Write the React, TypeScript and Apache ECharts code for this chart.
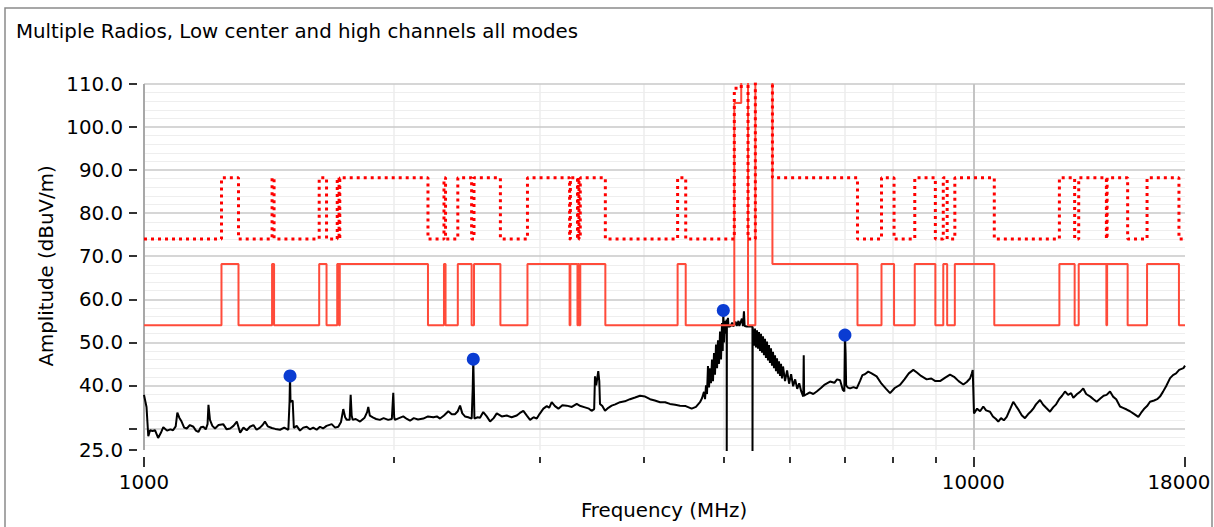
import React, { useEffect, useRef } from 'react';
import * as echarts from 'echarts';

const FONT = 'DejaVu Sans';
const FS = 19.8;
const TITLE = 'Multiple Radios, Low center and high channels all modes';
const X_NAME = 'Frequency (MHz)';
const Y_NAME = 'Amplitude (dBuV/m)';

const xMajorTicks = [1000, 10000, 18000];
const xMinorTicks = [2000, 3000, 4000, 5000, 6000, 7000, 8000, 9000];
const yTickValues = [25, 30, 40, 50, 60, 70, 80, 90, 100, 110];
const yLabelValues = [25, 40, 50, 60, 70, 80, 90, 100, 110];
const majorGridY = [30, 40, 50, 60, 70, 80, 90, 100, 110];
const minorGridY = [26, 28, 32, 34, 36, 38, 42, 44, 46, 48, 52, 54, 56, 58, 62, 64, 66, 68, 72, 74, 76, 78, 82, 84, 86, 88, 92, 94, 96, 98, 102, 104, 106, 108];
const minorGridX = [2000, 3000, 4000, 5000, 6000, 7000, 8000, 9000];
const majorGridX = [10000];

// Average limit (solid red): [MHz, dBuV/m]
const avgLimit: [number, number][] = [
  [1000, 54], [1240, 54], [1240, 68.2], [1300, 68.2], [1300, 54], [1427, 54], [1427, 68.2], [1435, 68.2], [1435, 54],
  [1626.5, 54], [1626.5, 68.2], [1660, 68.2], [1660, 54], [1710, 54], [1710, 68.2], [1718.8, 68.2], [1718.8, 54],
  [1722.2, 54], [1722.2, 68.2], [2200, 68.2], [2200, 54], [2300, 54], [2300, 68.2], [2310, 68.2], [2310, 54],
  [2390, 54], [2390, 68.2], [2483.5, 68.2], [2483.5, 54], [2500, 54], [2500, 68.2], [2690, 68.2], [2690, 54],
  [2900, 54], [2900, 68.2], [3260, 68.2], [3260, 54], [3267, 54], [3267, 68.2], [3332, 68.2], [3332, 54],
  [3339, 54], [3339, 68.2], [3345.8, 68.2], [3345.8, 54], [3358, 54], [3358, 68.2], [3600, 68.2], [3600, 54],
  [4400, 54], [4400, 68.2], [4500, 68.2], [4500, 54], [5150, 54], [5150, 105.6], [5250, 105.6], [5250, 120],
  [5350, 120], [5350, 54], [5460, 54], [5460, 120], [5725, 120], [5725, 68.2], [7250, 68.2], [7250, 54],
  [7750, 54], [7750, 68.2], [8025, 68.2], [8025, 54], [8500, 54], [8500, 68.2], [9000, 68.2], [9000, 54],
  [9200, 54], [9200, 68.2], [9300, 68.2], [9300, 54], [9500, 54], [9500, 68.2], [10600, 68.2], [10600, 54],
  [12700, 54], [12700, 68.2], [13250, 68.2], [13250, 54], [13400, 54], [13400, 68.2], [14470, 68.2], [14470, 54],
  [14500, 54], [14500, 68.2], [15350, 68.2], [15350, 54], [16200, 54], [16200, 68.2], [17700, 68.2], [17700, 54],
  [18000, 54],
];

// Peak limit (dotted red): [MHz, dBuV/m]
const peakLimit: [number, number][] = [
  [1000, 74], [1240, 74], [1240, 88.2], [1300, 88.2], [1300, 74], [1427, 74], [1427, 88.2], [1435, 88.2], [1435, 74],
  [1626.5, 74], [1626.5, 88.2], [1660, 88.2], [1660, 74], [1710, 74], [1710, 88.2], [1718.8, 88.2], [1718.8, 74],
  [1722.2, 74], [1722.2, 88.2], [2200, 88.2], [2200, 74], [2300, 74], [2300, 88.2], [2310, 88.2], [2310, 74],
  [2390, 74], [2390, 88.2], [2483.5, 88.2], [2483.5, 74], [2500, 74], [2500, 88.2], [2690, 88.2], [2690, 74],
  [2900, 74], [2900, 88.2], [3260, 88.2], [3260, 74], [3267, 74], [3267, 88.2], [3332, 88.2], [3332, 74],
  [3339, 74], [3339, 88.2], [3345.8, 88.2], [3345.8, 74], [3358, 74], [3358, 88.2], [3600, 88.2], [3600, 74],
  [4400, 74], [4400, 88.2], [4500, 88.2], [4500, 74], [5150, 74], [5150, 109], [5250, 109], [5250, 120],
  [5350, 120], [5350, 74], [5460, 74], [5460, 120], [5725, 120], [5725, 88.2], [7250, 88.2], [7250, 74],
  [7750, 74], [7750, 88.2], [8025, 88.2], [8025, 74], [8500, 74], [8500, 88.2], [9000, 88.2], [9000, 74],
  [9200, 74], [9200, 88.2], [9300, 88.2], [9300, 74], [9500, 74], [9500, 88.2], [10600, 88.2], [10600, 74],
  [12700, 74], [12700, 88.2], [13250, 88.2], [13250, 74], [13400, 74], [13400, 88.2], [14470, 88.2], [14470, 74],
  [14500, 74], [14500, 88.2], [15350, 88.2], [15350, 74], [16200, 74], [16200, 88.2], [17700, 88.2], [17700, 74],
  [18000, 74],
];

// Measured emission trace (black): [MHz, dBuV/m]
const emissionTrace: [number, number][] = [
  [1000, 37.8], [1007, 35], [1012, 28.2], [1017, 29.6], [1024, 29.4], [1031, 29.6], [1040, 27.8], [1048, 29],
  [1055, 30.3], [1066, 29.5], [1076, 29.8], [1084, 29.6], [1092, 30.5], [1097, 33.7], [1103, 32.5], [1110, 31.6],
  [1118, 30.2], [1126, 30], [1136, 30.8], [1147, 30.4], [1155, 29.5], [1163, 29.2], [1171, 30.3], [1179, 30.4],
  [1187, 29.8], [1193, 31], [1196, 35.5], [1201, 32], [1209, 30.6], [1218, 30], [1230, 30.8], [1246, 31],
  [1258, 29.8], [1270, 30], [1282, 30.6], [1294, 31.6], [1306, 29], [1318, 30.2], [1330, 29.6], [1342, 30.4],
  [1355, 30.8], [1367, 29.7], [1380, 30.2], [1390, 30.8], [1399, 31.6], [1410, 30.5], [1426, 30.1], [1440, 29.9],
  [1459, 29.7], [1476, 30.2], [1493, 29.7], [1498, 36.2], [1500, 42.2], [1502, 36.2], [1511, 36.5], [1516, 30.1],
  [1528, 30.6], [1542, 29.5], [1556, 30.2], [1571, 30.4], [1585, 29.8], [1600, 30.2], [1615, 29.7], [1630, 30.4],
  [1644, 30], [1660, 30.6], [1684, 31], [1700, 30.2], [1715, 30.4], [1728, 31.5], [1739, 34.5], [1748, 32.6],
  [1756, 32], [1770, 32], [1775, 37.8], [1780, 33], [1785, 32], [1800, 32.2], [1822, 31.6], [1845, 32.5],
  [1858, 33.8], [1864, 35], [1872, 33], [1890, 32.5], [1905, 32.2], [1925, 32], [1945, 32.4], [1970, 32],
  [1990, 32.2], [1998, 38.3], [2003, 32.6], [2007, 32], [2030, 32.4], [2054, 32.8], [2075, 32.2], [2093, 31.8],
  [2115, 32.4], [2140, 32.1], [2172, 32.3], [2200, 32.8], [2233, 32.6], [2255, 32.8], [2275, 32.3], [2300, 33],
  [2328, 34], [2350, 33.3], [2371, 33.3], [2390, 34], [2405, 35.3], [2420, 33.5], [2438, 32.8], [2460, 32.6],
  [2484, 32.3], [2491, 39.3], [2495, 46.1], [2499, 39.3], [2503, 32.3], [2525, 32.6], [2542, 32.5], [2565, 33.8],
  [2590, 32.8], [2614, 31.6], [2640, 32.4], [2663, 33.5], [2700, 32.8], [2738, 33], [2775, 32.6], [2815, 33],
  [2840, 33.6], [2867, 34.1], [2895, 33], [2921, 32], [2950, 32.6], [2976, 32.3], [3000, 33.4], [3031, 34.6],
  [3060, 35.2], [3080, 34.8], [3102, 36.1], [3130, 35.2], [3160, 34.6], [3195, 35.4], [3234, 35.3], [3280, 35],
  [3325, 35.7], [3360, 35.2], [3402, 34.9], [3440, 34.6], [3465, 34.1], [3490, 34.5], [3498, 42.1], [3510, 40],
  [3530, 43.3], [3540, 41], [3547, 35.7], [3570, 35.2], [3597, 34.1], [3630, 34.8], [3664, 35.3], [3700, 35.6],
  [3750, 36.1], [3800, 36.3], [3855, 36.8], [3910, 37.2], [3964, 37.6], [4020, 37.4], [4076, 36.8], [4130, 36.5],
  [4191, 36.1], [4250, 36.1], [4307, 35.7], [4370, 35.5], [4429, 35.3], [4500, 35.2], [4575, 34.6], [4630, 35],
  [4682, 36.1], [4708, 37], [4734, 38.5], [4748, 36.8], [4761, 40], [4774, 38], [4787, 44.5], [4801, 39.5],
  [4814, 44], [4827, 40.5], [4841, 46], [4854, 41], [4868, 47.5], [4881, 42.5], [4895, 49.5], [4909, 44],
  [4922, 50.5], [4936, 45], [4950, 52.5], [4964, 46], [4977, 54.5], [4987, 48], [4995, 57.4], [5005, 50],
  [5018, 55], [5032, 52], [5042, 55.3], [5043, 24], [5045, 53.6], [5060, 55.7], [5068, 53.6], [5100, 53.8],
  [5120, 54.6], [5135, 53.7], [5170, 54.8], [5185, 53.8], [5210, 55], [5222, 53.8], [5260, 55.5], [5275, 53.8],
  [5290, 57.2], [5300, 53.8], [5330, 53.7], [5360, 53.7], [5390, 53.7], [5416, 53.7], [5417, 24], [5420, 53.5],
  [5424, 53.5], [5439, 49.2], [5454, 53.2], [5469, 48.8], [5485, 52.8], [5500, 48.5], [5515, 52.4], [5531, 48],
  [5546, 52], [5561, 47.6], [5577, 51.4], [5592, 47], [5608, 50.8], [5623, 46.4], [5639, 50.2], [5655, 45.8],
  [5670, 49.4], [5686, 45.2], [5702, 48.6], [5718, 44.6], [5734, 47.8], [5750, 44], [5766, 47], [5782, 43.3],
  [5798, 46.3], [5814, 42.7], [5830, 45.6], [5847, 42.2], [5863, 45], [5879, 41.6], [5896, 44.4], [5929, 41],
  [5963, 43.5], [5996, 40.4], [6030, 42.6], [6064, 39.8], [6098, 41.4], [6133, 39.2], [6167, 40.5], [6202, 38.6],
  [6237, 37.4], [6245, 47], [6252, 37.6], [6300, 38], [6350, 38.4], [6413, 38], [6474, 38.6], [6550, 39.4],
  [6620, 40.2], [6718, 40.9], [6800, 40.6], [6850, 41.4], [6908, 41.2], [6960, 39], [6990, 38.6], [7002, 51.7],
  [7015, 47.5], [7025, 40], [7060, 39.5], [7102, 39.3], [7170, 39.6], [7235, 39.3], [7300, 41], [7350, 42.4],
  [7400, 42.6], [7470, 43.2], [7540, 42.8], [7646, 42.1], [7750, 40.4], [7850, 39.2], [7936, 38.2], [8040, 39.4],
  [8159, 40.1], [8260, 41.4], [8360, 42.8], [8465, 43.6], [8550, 43], [8650, 42.2], [8786, 41.4], [8900, 41.6],
  [9000, 41], [9118, 41], [9250, 41.8], [9374, 42.5], [9480, 42], [9600, 41], [9727, 40.2], [9820, 40.8],
  [9909, 41.6], [9960, 42.8], [9984, 43.6], [10019, 33.5], [10106, 34.6], [10190, 34], [10281, 35.1],
  [10360, 34.2], [10474, 33.9], [10560, 32.8], [10650, 32.2], [10718, 31.6], [10800, 32.4], [10885, 31.9],
  [10972, 32.7], [11070, 34.4], [11173, 36.2], [11260, 35.2], [11350, 34.2], [11445, 33], [11542, 32.4],
  [11640, 33.3], [11740, 34], [11812, 34.6], [11900, 35.6], [12035, 36.6], [12140, 35.5], [12240, 34.8],
  [12373, 33.9], [12480, 34.9], [12585, 35.6], [12690, 36.8], [12795, 37.6], [12900, 38.6], [13010, 37.8],
  [13120, 38.2], [13201, 37.1], [13340, 38], [13450, 38.5], [13570, 39.3], [13680, 38], [13840, 37.4],
  [13960, 36.8], [14085, 36.2], [14240, 37], [14360, 37.6], [14480, 37.8], [14617, 38.6], [14740, 37.4],
  [14870, 36.8], [15028, 35.1], [15155, 34.8], [15311, 34.4], [15450, 34], [15620, 33.4], [15812, 32.7],
  [15930, 33.6], [16060, 34.5], [16200, 35.2], [16334, 36.2], [16520, 36.5], [16660, 36.8], [16792, 37.4],
  [16930, 38.5], [17080, 39.8], [17270, 41.7], [17410, 42.4], [17560, 42.8], [17710, 43.6], [17920, 44],
  [18000, 44.6],
];

// Peak markers (blue): [MHz, dBuV/m]
const peakMarkers: [number, number][] = [
  [1500, 42.2], [2495, 46.1], [4995, 57.4], [7002, 51.7],
];

export default function App() {
  const ref = useRef<HTMLDivElement>(null);

  useEffect(() => {
    if (!ref.current) return;
    const chart = echarts.init(ref.current, undefined, { renderer: 'svg' });

    const gridLines: any[] = [
      ...minorGridY.map((v) => ({ yAxis: v, lineStyle: { color: '#eeeeee', width: 1, type: 'solid' } })),
      ...minorGridX.map((v) => ({ xAxis: v, lineStyle: { color: '#ededed', width: 1.5, type: 'solid' } })),
      ...majorGridY.map((v) => ({ yAxis: v, lineStyle: { color: '#c8c8c8', width: 1.5, type: 'solid' } })),
      ...majorGridX.map((v) => ({ xAxis: v, lineStyle: { color: '#c4c4c4', width: 2, type: 'solid' } })),
      { xAxis: 1000, lineStyle: { color: '#a8a8a8', width: 2, type: 'solid' } },
    ];

    const labelStyle = { fontFamily: FONT, fontSize: FS, color: '#000' };

    chart.setOption({
      animation: false,
      backgroundColor: '#fff',
      title: {
        text: TITLE,
        left: 16,
        top: 21,
        padding: 0,
        textStyle: { fontFamily: FONT, fontSize: FS, fontWeight: 'normal', color: '#000' },
      },
      grid: { left: 144, top: 84, width: 1041, height: 366, containLabel: false, outerBoundsMode: 'none' },
      xAxis: [
        {
          type: 'log', logBase: 10, min: 1000, max: 18000, position: 'bottom', offset: 7,
          axisLine: { show: false },
          axisTick: { show: true, length: 10, customValues: xMajorTicks, lineStyle: { color: '#333', width: 2 } },
          axisLabel: {
            show: true, customValues: xMajorTicks, margin: 15, ...labelStyle,
            formatter: (v: number) => (Math.round(v) === 18000 ? '{r|18000}' : String(Math.round(v))),
            rich: { r: { fontFamily: FONT, fontSize: FS, color: '#000', padding: [0, 12, 0, 0] } },
          },
          splitLine: { show: false },
        },
        {
          type: 'log', logBase: 10, min: 1000, max: 18000, position: 'bottom', offset: 7,
          axisLine: { show: false },
          axisTick: { show: true, length: 6, customValues: xMinorTicks, lineStyle: { color: '#333', width: 2 } },
          axisLabel: { show: false },
          splitLine: { show: false },
        },
      ],
      yAxis: [
        {
          type: 'value', min: 25, max: 110, position: 'left', offset: 7,
          axisLine: { show: false },
          axisTick: { show: true, length: 8, customValues: yTickValues, lineStyle: { color: '#333', width: 2 } },
          axisLabel: { show: true, customValues: yLabelValues, margin: 14, formatter: (v: number) => v.toFixed(1), ...labelStyle },
          splitLine: { show: false },
        },
      ],
      series: [
        {
          name: 'grid', type: 'line', data: [], silent: true, z: 0,
          markLine: { z: 0, silent: true, symbol: ['none', 'none'], label: { show: false }, emphasis: { disabled: true }, lineStyle: { type: 'solid' }, data: gridLines },
        },
        {
          name: 'Trace', type: 'line', data: emissionTrace, showSymbol: false, symbol: 'none', z: 2,
          lineStyle: { color: '#000', width: 2 }, emphasis: { disabled: true },
        },
        {
          name: 'Average limit', type: 'line', data: avgLimit, showSymbol: false, symbol: 'none', z: 3,
          lineStyle: { color: '#ff4b3a', width: 2 }, emphasis: { disabled: true },
        },
        {
          name: 'Peak limit', type: 'line', data: peakLimit, showSymbol: false, symbol: 'none', z: 3,
          lineStyle: { color: '#ff0000', width: 3, type: [3, 4], cap: 'butt' }, emphasis: { disabled: true },
        },
        {
          name: 'Peaks', type: 'scatter', data: peakMarkers, symbol: 'circle', symbolSize: 13, z: 4,
          itemStyle: { color: '#0a3cd2', opacity: 1 }, emphasis: { disabled: true },
        },
      ],
      graphic: [
        {
          type: 'text', x: 664, y: 510, z: 10,
          style: { text: X_NAME, fontFamily: FONT, fontSize: FS, fill: '#000', align: 'center', verticalAlign: 'middle', textAlign: 'center', textVerticalAlign: 'middle' },
        },
        {
          type: 'text', x: 46, y: 266, rotation: Math.PI / 2, z: 10,
          style: { text: Y_NAME, fontFamily: FONT, fontSize: FS, fill: '#000', align: 'center', verticalAlign: 'middle', textAlign: 'center', textVerticalAlign: 'middle' },
        },
        {
          type: 'rect', z: 100, silent: true,
          shape: { x: 5, y: 8, width: 1207, height: 540 },
          style: { fill: 'none', stroke: '#8a8a8a', lineWidth: 1.5 },
        },
      ],
    });

    return () => chart.dispose();
  }, []);

  return <div ref={ref} style={{ position: 'absolute', left: 0, top: 0, width: 1214, height: 527 }} />;
}
